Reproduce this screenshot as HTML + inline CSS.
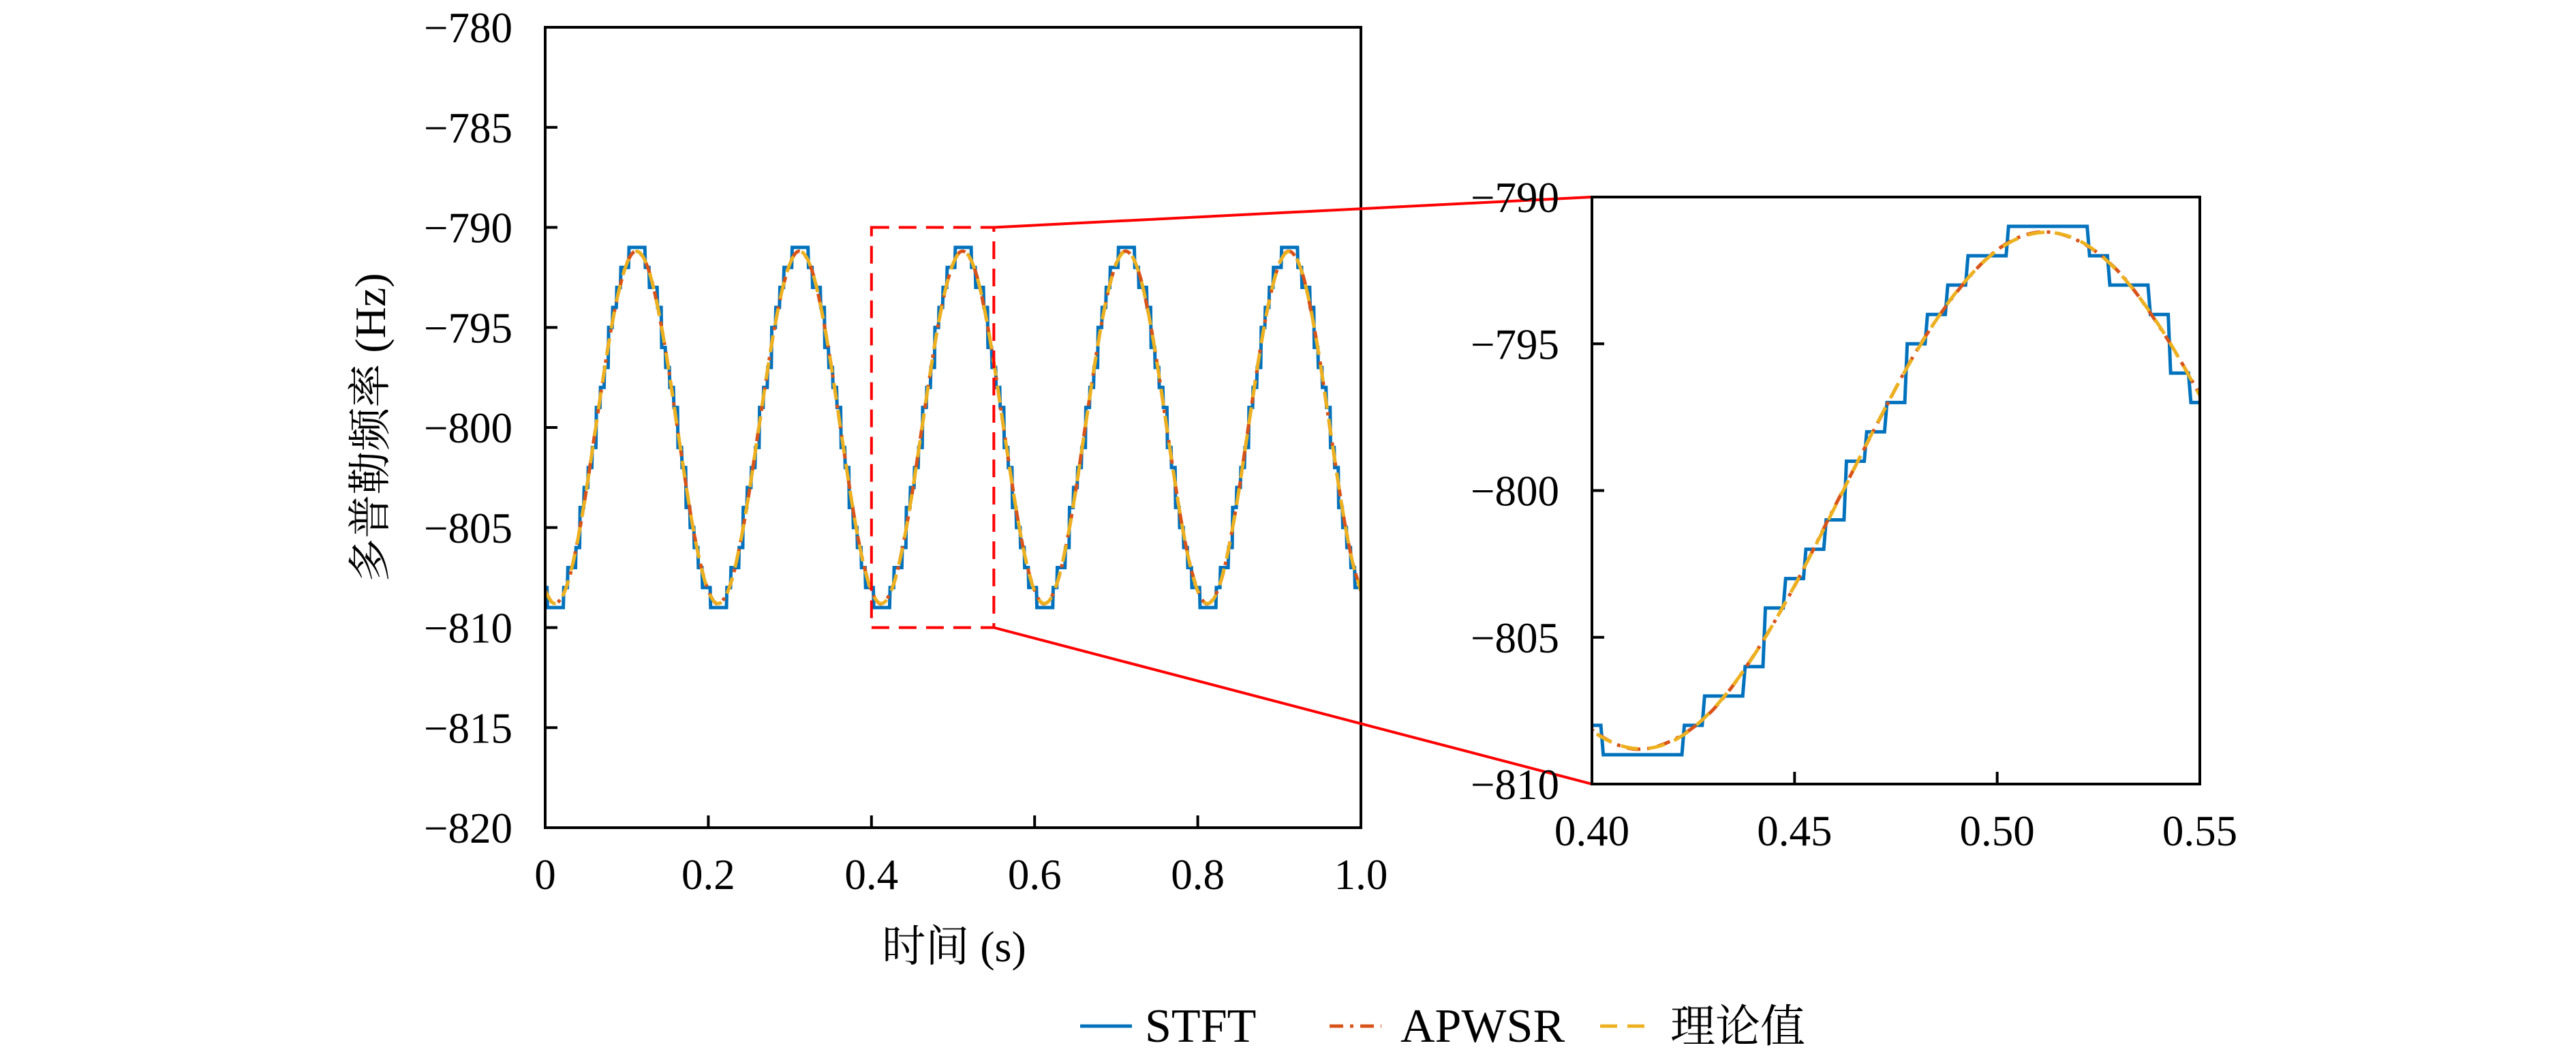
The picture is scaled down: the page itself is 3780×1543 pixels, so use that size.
<!DOCTYPE html>
<html><head><meta charset="utf-8"><style>
html,body{margin:0;padding:0;background:#fff;}
svg text{font-family:"Liberation Serif","Noto Serif CJK SC",serif;fill:#000;}
</style></head><body>
<svg id="chart" width="3780" height="1538" viewBox="0 0 3780 1538" xmlns="http://www.w3.org/2000/svg">
<defs>
<clipPath id="clipMain"><rect x="800" y="40" width="1197" height="1174"/></clipPath>
<clipPath id="clipInset"><rect x="2336" y="289" width="892" height="861"/></clipPath>
</defs>
<g id="main"></g>
<g id="inset"></g>
<g id="legend"></g>
</svg>
<script>
// ---- data ----
const theoryTimes = [0,0.01,0.02,0.03,0.04,0.05,0.06,0.07,0.08,0.09,0.10,0.11,0.12,0.13,0.14,0.15,0.16,0.17,0.18,0.19,
0.20,0.21,0.22,0.23,0.24,0.25,0.26,0.27,0.28,0.29,0.30,0.31,0.32,0.33,0.34,0.35,0.36,0.37,0.38,0.39,
0.40,0.41,0.42,0.43,0.44,0.45,0.46,0.47,0.48,0.49,0.50,0.51,0.52,0.53,0.54,0.55,0.56,0.57,0.58,0.59,
0.60,0.61,0.62,0.63,0.64,0.65,0.66,0.67,0.68,0.69,0.70,0.71,0.72,0.73,0.74,0.75,0.76,0.77,0.78,0.79,
0.80,0.81,0.82,0.83,0.84,0.85,0.86,0.87,0.88,0.89,0.90,0.91,0.92,0.93,0.94,0.95,0.96,0.97,0.98,0.99,1.00];
const theoryValues = [-808.18,-808.78,-808.53,-807.43,-805.61,-803.24,-800.55,-797.81,-795.28,-793.22,-791.82,-791.22,-791.47,-792.57,-794.39,-796.76,-799.45,-802.19,-804.72,-806.78,
-808.18,-808.78,-808.53,-807.43,-805.61,-803.24,-800.55,-797.81,-795.28,-793.22,-791.82,-791.22,-791.47,-792.57,-794.39,-796.76,-799.45,-802.19,-804.72,-806.78,
-808.18,-808.78,-808.53,-807.43,-805.61,-803.24,-800.55,-797.81,-795.28,-793.22,-791.82,-791.22,-791.47,-792.57,-794.39,-796.76,-799.45,-802.19,-804.72,-806.78,
-808.18,-808.78,-808.53,-807.43,-805.61,-803.24,-800.55,-797.81,-795.28,-793.22,-791.82,-791.22,-791.47,-792.57,-794.39,-796.76,-799.45,-802.19,-804.72,-806.78,
-808.18,-808.78,-808.53,-807.43,-805.61,-803.24,-800.55,-797.81,-795.28,-793.22,-791.82,-791.22,-791.47,-792.57,-794.39,-796.76,-799.45,-802.19,-804.72,-806.78,-808.18];
const apwsrValues = [-808.15,-808.80,-808.50,-807.45,-805.60,-803.25,-800.52,-797.83,-795.26,-793.24,-791.80,-791.20,-791.49,-792.55,-794.41,-796.74,-799.47,-802.17,-804.74,-806.76,
-808.15,-808.80,-808.50,-807.45,-805.60,-803.25,-800.52,-797.83,-795.26,-793.24,-791.80,-791.20,-791.49,-792.55,-794.41,-796.74,-799.47,-802.17,-804.74,-806.76,
-808.15,-808.80,-808.50,-807.45,-805.60,-803.25,-800.52,-797.83,-795.26,-793.24,-791.80,-791.20,-791.49,-792.55,-794.41,-796.74,-799.47,-802.17,-804.74,-806.76,
-808.15,-808.80,-808.50,-807.45,-805.60,-803.25,-800.52,-797.83,-795.26,-793.24,-791.80,-791.20,-791.49,-792.55,-794.41,-796.74,-799.47,-802.17,-804.74,-806.76,
-808.15,-808.80,-808.50,-807.45,-805.60,-803.25,-800.52,-797.83,-795.26,-793.24,-791.80,-791.20,-791.49,-792.55,-794.41,-796.74,-799.47,-802.17,-804.74,-806.76,-808.15];
const stftStep = 0.005;
const stftValues = [
-808,-809,-809,-809,-809,-808,-807,-807,-806,-804,-803,-802,-801,-799,-798,-797,-795,-794,-793,-792,-792,-791,-791,-791,-791,-792,-793,-793,-794,-796,-797,-798,-799,-801,-802,-804,-805,-806,-807,-808,
-808,-809,-809,-809,-809,-808,-807,-807,-806,-804,-803,-802,-801,-799,-798,-797,-795,-794,-793,-792,-792,-791,-791,-791,-791,-792,-793,-793,-794,-796,-797,-798,-799,-801,-802,-804,-805,-806,-807,-808,
-808,-809,-809,-809,-809,-808,-807,-807,-806,-804,-803,-802,-801,-799,-798,-797,-795,-794,-793,-792,-792,-791,-791,-791,-791,-792,-793,-793,-794,-796,-797,-798,-799,-801,-802,-804,-805,-806,-807,-808,
-808,-809,-809,-809,-809,-808,-807,-807,-806,-804,-803,-802,-801,-799,-798,-797,-795,-794,-793,-792,-792,-791,-791,-791,-791,-792,-793,-793,-794,-796,-797,-798,-799,-801,-802,-804,-805,-806,-807,-808,
-808,-809,-809,-809,-809,-808,-807,-807,-806,-804,-803,-802,-801,-799,-798,-797,-795,-794,-793,-792,-792,-791,-791,-791,-791,-792,-793,-793,-794,-796,-797,-798,-799,-801,-802,-804,-805,-806,-807,-808,-808];
const mainXTicks = [0,0.2,0.4,0.6,0.8,1.0];
const mainXTickLabels = ["0","0.2","0.4","0.6","0.8","1.0"];
const mainYTicks = [-780,-785,-790,-795,-800,-805,-810,-815,-820];
const insetXTicks = [0.40,0.45,0.50,0.55];
const insetXTickLabels = ["0.40","0.45","0.50","0.55"];
const insetYTicks = [-790,-795,-800,-805,-810];
const zoomRange = [0.4,0.55,-810,-790];

const NS="http://www.w3.org/2000/svg";
function mk(tag,attrs,parent){const e=document.createElementNS(NS,tag);for(const k in attrs)e.setAttribute(k,attrs[k]);parent.appendChild(e);return e;}
function scale(d0,d1,r0,r1){return v=>r0+(v-d0)/(d1-d0)*(r1-r0);}
function smoothPath(pts){
  let d="M"+pts[0][0]+","+pts[0][1];
  for(let i=0;i<pts.length-1;i++){
    const p0=pts[i-1]||pts[i],p1=pts[i],p2=pts[i+1],p3=pts[i+2]||p2;
    const c1=[p1[0]+(p2[0]-p0[0])/6,p1[1]+(p2[1]-p0[1])/6];
    const c2=[p2[0]-(p3[0]-p1[0])/6,p2[1]-(p3[1]-p1[1])/6];
    d+=" C"+c1[0]+","+c1[1]+" "+c2[0]+","+c2[1]+" "+p2[0]+","+p2[1];
  }
  return d;
}
function stepPath(xs,ys){
  let d="M"+xs(0)+","+ys(stftValues[0]);
  for(let i=1;i<stftValues.length;i++){
    const xm=(i-0.5)*stftStep;
    d+=" L"+xs(xm-stftStep*0.06)+","+ys(stftValues[i-1])+" L"+xs(xm+stftStep*0.06)+","+ys(stftValues[i]);
  }
  d+=" L"+xs((stftValues.length-1)*stftStep)+","+ys(stftValues[stftValues.length-1]);
  return d;
}
function drawPanel(g,box,xd,yd,xt,xtl,yt,clip,lw,fs){
  const xs=scale(xd[0],xd[1],box.x0,box.x1), ys=scale(yd[0],yd[1],box.y1,box.y0);
  const cg=mk("g",{"clip-path":"url(#"+clip+")"},g);
  const s=mk("path",{d:stepPath(xs,ys),fill:"none",stroke:"#0072BD","stroke-width":lw,"stroke-linejoin":"miter"},cg);
  
  
  const a=mk("path",{d:smoothPath(theoryTimes.map((t,i)=>[xs(t),ys(apwsrValues[i])])),fill:"none",stroke:"#D95319","stroke-width":lw,"stroke-dasharray":(lw*4)+","+(lw*2)+","+lw+","+(lw*2)},cg);
  
  
  const t=mk("path",{d:smoothPath(theoryTimes.map((t,i)=>[xs(t),ys(theoryValues[i])])),fill:"none",stroke:"#EDB120","stroke-width":lw,"stroke-dasharray":(lw*5)+","+(lw*3)},cg);
  
  
  const ax=mk("g",{},g);
  
  
  xt.forEach((v,i)=>{
    const x=xs(v);
    mk("line",{x1:x,x2:x,y1:box.y1,y2:box.y1-18,stroke:"#000","stroke-width":4},ax);
    const tx=mk("text",{x:x,y:box.y1+90,"font-size":fs,"text-anchor":"middle"},ax);
    tx.textContent=xtl[i];
    
    
  });
  yt.forEach(v=>{
    const y=ys(v);
    mk("line",{x1:box.x0,x2:box.x0+18,y1:y,y2:y,stroke:"#000","stroke-width":4},ax);
    const tx=mk("text",{x:box.x0-48,y:y+22,"font-size":fs,"text-anchor":"end"},ax);
    tx.textContent="\u2212"+Math.abs(v);
    
    
  });
  const fr=mk("rect",{x:box.x0,y:box.y0,width:box.x1-box.x0,height:box.y1-box.y0,fill:"none",stroke:"#000","stroke-width":4},ax);
  
  
  return {xs,ys};
}
const mainBox={x0:800,x1:1997,y0:40,y1:1214};
const insetBox={x0:2336,x1:3228,y0:289,y1:1150};
const gMain=document.getElementById("main"), gInset=document.getElementById("inset");
const M=drawPanel(gMain,mainBox,[0,1],[-820,-780],mainXTicks,mainXTickLabels,mainYTicks,"clipMain",5,63);
drawPanel(gInset,insetBox,[0.4,0.55],[-810,-790],insetXTicks,insetXTickLabels,insetYTicks,"clipInset",5,63);

// zoom box & connectors
const zx0=M.xs(zoomRange[0]),zx1=M.xs(zoomRange[1]),zy0=M.ys(zoomRange[3]),zy1=M.ys(zoomRange[2]);
const zr=mk("rect",{x:zx0,y:zy0,width:zx1-zx0,height:zy1-zy0,fill:"none",stroke:"#FF0000","stroke-width":4,"stroke-dasharray":"26,14"},gMain);


const c1=mk("line",{x1:zx1,y1:zy0,x2:insetBox.x0,y2:insetBox.y0,stroke:"#FF0000","stroke-width":4},gMain);


const c2=mk("line",{x1:zx1,y1:zy1,x2:insetBox.x0,y2:insetBox.y1,stroke:"#FF0000","stroke-width":4},gMain);



// axis titles
const xl=mk("text",{x:1400,y:1410,"font-size":64,"text-anchor":"middle"},gMain);
xl.textContent="时间 (s)";


const yl=mk("text",{x:0,y:0,"font-size":64,"text-anchor":"middle",transform:"translate(565,627) rotate(-90)"},gMain);
yl.textContent="多普勒频率 (Hz)";



// legend
const gl=document.getElementById("legend");
const legendItems=[["STFT","#0072BD","none",1585,1680,70],["APWSR","#D95319","20,10,5,10",1951,2055,70],["理论值","#EDB120","25,15",2348,2451,66]];
legendItems.forEach(it=>{
  const g=mk("g",{},gl);
  
  
  mk("line",{x1:it[3],x2:it[3]+76,y1:1505,y2:1505,stroke:it[1],"stroke-width":5,"stroke-dasharray":it[2]},g);
  const t=mk("text",{x:it[4],y:1528,"font-size":it[5]},g);
  t.textContent=it[0];
});
</script>
</body></html>
